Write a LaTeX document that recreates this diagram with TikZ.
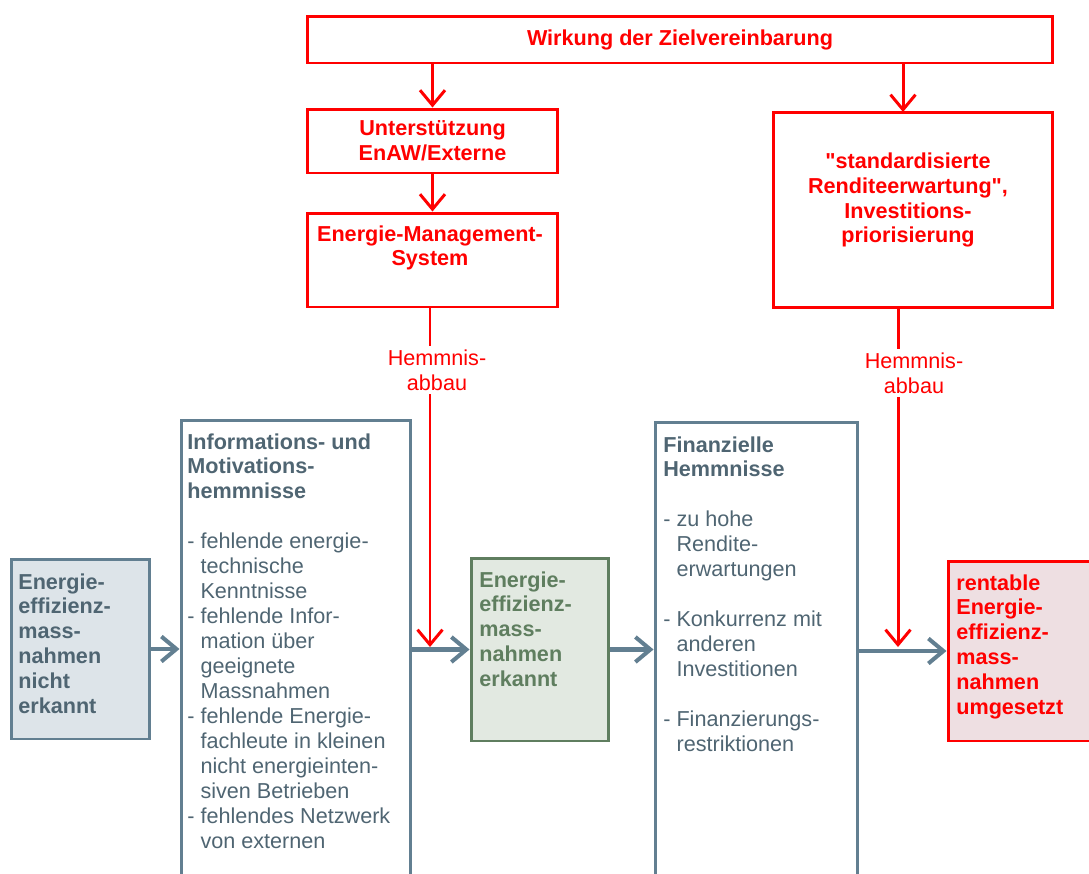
\documentclass[tikz,border=0pt]{standalone}
\usepackage{fontspec}
\setmainfont{Liberation Sans}
\usetikzlibrary{arrows.meta}
\definecolor{slate}{HTML}{627F91}
\definecolor{slatetext}{HTML}{4F6572}
\definecolor{slatefill}{HTML}{DDE4E9}
\definecolor{moss}{HTML}{5F7E5F}
\definecolor{mossfill}{HTML}{E2E9E1}
\definecolor{signal}{HTML}{FF0000}
\definecolor{rosefill}{HTML}{EEDFE2}
\newcommand{\indt}{\hphantom{- }}

\begin{document}
\begin{tikzpicture}[x=0.02cm, y=-0.02cm, font=\fontsize{12.3}{14.2}\selectfont,
  bold/.style={font=\fontsize{12.3}{14.2}\selectfont\bfseries},
  redbox/.style={draw=signal, line width=1.7pt, inner sep=0pt},
  greybox/.style={draw=slate, line width=1.7pt, inner sep=0pt},
  redarrow/.style={signal, line width=1.7pt, -{Straight Barb[length=3mm, width=5mm]}},
  greyarrow/.style={slate, line width=2.3pt, -{Straight Barb[length=3mm, width=5mm]}},
  boxtext/.style={anchor=north west, align=left, inner sep=0pt}]

\useasboundingbox (0,0) rectangle (1089,873);

% Upper part: measures of the agreement
\node[redbox, minimum width=14.92cm, minimum height=0.94cm, text=signal, bold]
  (wirk) at (680,39.5) {Wirkung der Zielvereinbarung};
\node[redbox, minimum width=5.02cm, minimum height=1.28cm, text=signal, bold, align=center]
  (unter) at (432.5,141) {Unterst\"utzung\\EnAW/Externe};
\node[redbox, minimum width=5.02cm, minimum height=1.88cm] (ems) at (432.5,260) {};
\node[anchor=north, align=center, inner sep=0pt, text=signal, bold]
  (emstext) at (430,225) {Energie-Management-\\System};
\node[redbox, minimum width=5.6cm, minimum height=3.92cm] (stand) at (913,210) {};
\node[align=center, inner sep=0pt, text=signal, bold]
  (standtext) at (908,200) {\textquotedbl standardisierte\\Renditeerwartung\textquotedbl,\\Investitions-\\priorisierung};

\coordinate (sIn) at (903,112);
\draw[redarrow] (wirk.south -| unter.north) -- (unter.north);
\draw[redarrow] (wirk.south -| sIn) -- (sIn);
\draw[redarrow] (unter.south) -- (unter.south |- ems.north);

% Lower part: chain of boxes
\node[greybox, fill=slatefill, minimum width=2.78cm, minimum height=3.6cm] (nicht) at (80.5,649) {};
\node[boxtext, text=slatetext, bold] (nichttext) at (18,573)
  {Energie-\\effizienz-\\mass-\\nahmen\\nicht\\erkannt};

\node[greybox, minimum width=4.6cm, minimum height=9.4cm] (info) at (296,655) {};
\node[boxtext, text=slatetext] (infotext) at (187,433)
  {\textbf{Informations- und}\\\textbf{Motivations-}\\\textbf{hemmnisse}\\[14.2pt]
   - fehlende energie-\\\indt technische\\\indt Kenntnisse\\
   - fehlende Infor-\\\indt mation \"uber\\\indt geeignete\\\indt Massnahmen\\
   - fehlende Energie-\\\indt fachleute in kleinen\\\indt nicht energieinten-\\\indt siven Betrieben\\
   - fehlendes Netzwerk\\\indt von externen};

\node[greybox, draw=moss, fill=mossfill, minimum width=2.76cm, minimum height=3.66cm] (green) at (540,649.5) {};
\node[boxtext, text=moss, bold] (greentext) at (479,571)
  {Energie-\\effizienz-\\mass-\\nahmen\\erkannt};

\node[greybox, minimum width=4.06cm, minimum height=9.36cm] (finanz) at (756.5,656) {};
\node[boxtext, text=slatetext] (finanztext) at (663,436)
  {\textbf{Finanzielle}\\\textbf{Hemmnisse}\\[14.2pt]
   - zu hohe\\\indt Rendite-\\\indt erwartungen\\[14.2pt]
   - Konkurrenz mit\\\indt anderen\\\indt Investitionen\\[14.2pt]
   - Finanzierungs-\\\indt restriktionen};

\node[redbox, fill=rosefill, minimum width=3.04cm, minimum height=3.6cm] (rent) at (1024,651) {};
\node[boxtext, text=signal, bold] (renttext) at (956,574)
  {rentable\\Energie-\\effizienz-\\mass-\\nahmen\\umgesetzt};

% Flow arrows
\draw[greyarrow] (nicht.east) -- (nicht.east -| info.west);
\draw[greyarrow] (info.east |- green.west) -- (green.west);
\draw[greyarrow] (green.east) -- (green.east -| finanz.west);
\draw[greyarrow] (finanz.east |- rent.west) -- (rent.west);

% Barrier reduction
\coordinate (jL) at (430,647);
\coordinate (jR) at (898,647);
\draw[redarrow] (ems.south -| jL) -- (jL);
\draw[redarrow] (stand.south -| jR) -- (jR);
\node[fill=white, align=center, inner sep=2pt, text=signal] (hemL) at (437,370) {Hemmnis-\\abbau};
\node[fill=white, align=center, inner sep=2pt, text=signal] (hemR) at (914,373) {Hemmnis-\\abbau};

\end{tikzpicture}
\end{document}
